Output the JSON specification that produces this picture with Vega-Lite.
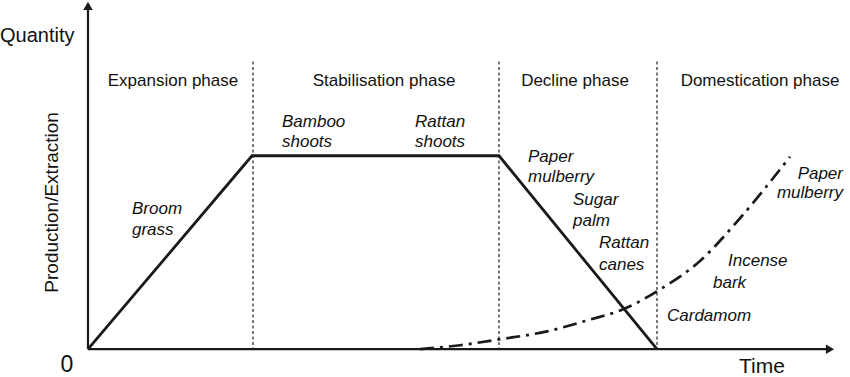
{
  "$schema": "https://vega.github.io/schema/vega-lite/v6.json",
  "width": 850,
  "height": 377,
  "autosize": {"type": "fit", "contains": "padding"},
  "padding": 0,
  "background": "white",
  "config": {"view": {"stroke": null}, "text": {"font": "Liberation Sans", "color": "#111"}},
  "encoding": {
    "x": {"type": "quantitative", "scale": {"domain": [-88, 762], "nice": false, "zero": false}, "axis": null},
    "y": {"type": "quantitative", "scale": {"domain": [-25, 352], "nice": false, "zero": false}, "axis": null}
  },
  "layer": [
    {
      "data": {"values": [{"t": 165}, {"t": 411}, {"t": 569}]},
      "mark": {"type": "rule", "strokeDash": [3, 2.5], "strokeWidth": 1.3, "color": "#333"},
      "encoding": {"x": {"field": "t"}, "y": {"datum": 290}, "y2": {"datum": 0}}
    },
    {
      "data": {"values": [{"x": 0, "y": 0, "x2": 0, "y2": 342}, {"x": 0, "y": 0, "x2": 740, "y2": 0}]},
      "mark": {"type": "rule", "strokeWidth": 2.2, "color": "#1a1a1a"},
      "encoding": {"x": {"field": "x"}, "y": {"field": "y"}, "x2": {"field": "x2"}, "y2": {"field": "y2"}}
    },
    {
      "data": {"values": [{"x": 0, "y": 346}]},
      "mark": {"type": "point", "shape": "triangle-up", "filled": true, "size": 90, "color": "#1a1a1a", "opacity": 1},
      "encoding": {"x": {"field": "x"}, "y": {"field": "y"}}
    },
    {
      "data": {"values": [{"x": 742, "y": 0}]},
      "mark": {"type": "point", "shape": "triangle-right", "filled": true, "size": 90, "color": "#1a1a1a", "opacity": 1},
      "encoding": {"x": {"field": "x"}, "y": {"field": "y"}}
    },
    {
      "data": {"values": [{"o": 1, "x": 0, "y": 0}, {"o": 2, "x": 164, "y": 195}, {"o": 3, "x": 411, "y": 195}, {"o": 4, "x": 569, "y": 0}]},
      "mark": {"type": "line", "strokeWidth": 2.8, "color": "#1a1a1a"},
      "encoding": {"x": {"field": "x"}, "y": {"field": "y"}, "order": {"field": "o"}}
    },
    {
      "data": {"values": [
        {"x": 332, "y": 0}, {"x": 372, "y": 4}, {"x": 412, "y": 10}, {"x": 459, "y": 18},
        {"x": 499, "y": 29}, {"x": 537, "y": 41}, {"x": 570, "y": 59}, {"x": 612, "y": 89},
        {"x": 652, "y": 132}, {"x": 702, "y": 194}
      ]},
      "mark": {"type": "line", "strokeWidth": 2.7, "color": "#1a1a1a", "strokeDash": [14, 6, 3, 6], "interpolate": "monotone"},
      "encoding": {"x": {"field": "x"}, "y": {"field": "y"}}
    },
    {
      "data": {"values": [
        {"x": 85, "y": 270, "t": "Expansion phase"},
        {"x": 296, "y": 270, "t": "Stabilisation phase"},
        {"x": 487, "y": 270, "t": "Decline phase"},
        {"x": 672, "y": 270, "t": "Domestication phase"}
      ]},
      "mark": {"type": "text", "fontSize": 17, "align": "center", "baseline": "middle"},
      "encoding": {"x": {"field": "x"}, "y": {"field": "y"}, "text": {"field": "t"}}
    },
    {
      "data": {"values": [
        {"x": 194, "y": 229, "t": "Bamboo"}, {"x": 194, "y": 209, "t": "shoots"},
        {"x": 327, "y": 229, "t": "Rattan"}, {"x": 327, "y": 209, "t": "shoots"},
        {"x": 44, "y": 141, "t": "Broom"}, {"x": 44, "y": 120, "t": "grass"},
        {"x": 440, "y": 194, "t": "Paper"}, {"x": 440, "y": 174, "t": "mulberry"},
        {"x": 485, "y": 150, "t": "Sugar"}, {"x": 485, "y": 129, "t": "palm"},
        {"x": 511, "y": 107, "t": "Rattan"}, {"x": 511, "y": 85, "t": "canes"},
        {"x": 640, "y": 89, "t": "Incense"}, {"x": 625, "y": 67, "t": "bark"},
        {"x": 579, "y": 33, "t": "Cardamom"}
      ]},
      "mark": {"type": "text", "fontSize": 17, "fontStyle": "italic", "align": "left", "baseline": "middle"},
      "encoding": {"x": {"field": "x"}, "y": {"field": "y"}, "text": {"field": "t"}}
    },
    {
      "data": {"values": [
        {"x": 755, "y": 177, "t": "Paper"}, {"x": 755, "y": 157, "t": "mulberry"}
      ]},
      "mark": {"type": "text", "fontSize": 17, "fontStyle": "italic", "align": "right", "baseline": "middle"},
      "encoding": {"x": {"field": "x"}, "y": {"field": "y"}, "text": {"field": "t"}}
    },
    {
      "data": {"values": [{"x": -88, "y": 316, "t": "Quantity"}]},
      "mark": {"type": "text", "fontSize": 20, "align": "left", "baseline": "middle"},
      "encoding": {"x": {"field": "x"}, "y": {"field": "y"}, "text": {"field": "t"}}
    },
    {
      "data": {"values": [{"x": -21, "y": -16, "t": "0"}]},
      "mark": {"type": "text", "fontSize": 23, "align": "center", "baseline": "middle"},
      "encoding": {"x": {"field": "x"}, "y": {"field": "y"}, "text": {"field": "t"}}
    },
    {
      "data": {"values": [{"x": 674, "y": -18, "t": "Time"}]},
      "mark": {"type": "text", "fontSize": 21, "align": "center", "baseline": "middle"},
      "encoding": {"x": {"field": "x"}, "y": {"field": "y"}, "text": {"field": "t"}}
    },
    {
      "data": {"values": [{"x": -36, "y": 148, "t": "Production/Extraction"}]},
      "mark": {"type": "text", "fontSize": 19, "angle": 270, "align": "center", "baseline": "middle"},
      "encoding": {"x": {"field": "x"}, "y": {"field": "y"}, "text": {"field": "t"}}
    }
  ]
}
